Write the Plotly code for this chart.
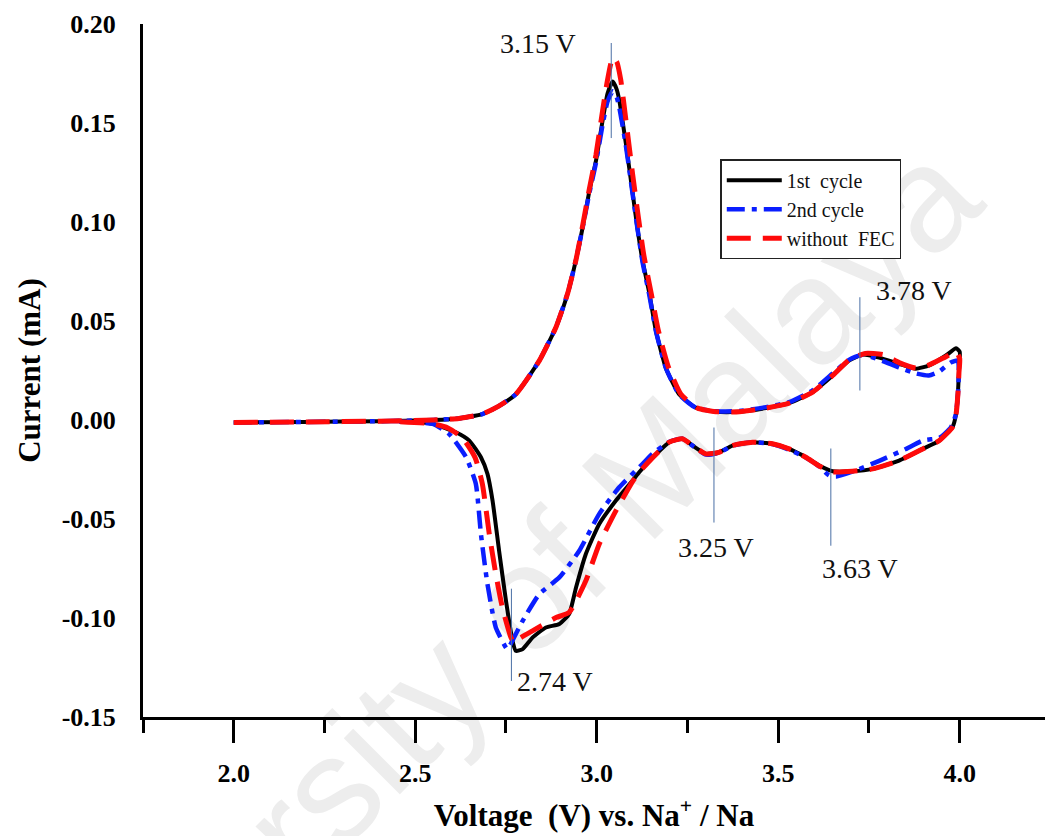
import plotly.graph_objects as go

# Cyclic voltammetry data: voltage (V vs Na+/Na) and current (mA)
cycle1_v = [2.00, 2.20, 2.40, 2.55, 2.62, 2.685, 2.73, 2.777, 2.842, 2.888, 2.920, 2.943, 2.961, 2.979,
            2.998, 3.016, 3.030, 3.044, 3.055, 3.062, 3.080, 3.099, 3.112, 3.126, 3.145, 3.163, 3.191,
            3.227, 3.273, 3.328, 3.393, 3.466, 3.530, 3.595, 3.650, 3.696, 3.732, 3.778, 3.833, 3.879,
            3.916, 3.962, 3.990, 4.000, 3.998, 3.995, 3.990, 3.980, 3.944, 3.898, 3.833, 3.760, 3.705,
            3.650, 3.613, 3.576, 3.530, 3.484, 3.429, 3.374, 3.337, 3.301, 3.264, 3.236, 3.200, 3.154,
            3.117, 3.099, 3.053, 3.007, 2.970, 2.943, 2.924, 2.897, 2.860, 2.823, 2.796, 2.777, 2.768,
            2.750, 2.731, 2.713, 2.699, 2.681, 2.649, 2.612, 2.548, 2.456]
cycle1_i = [-0.0012, -0.0010, -0.0006, 0.0000, 0.0008, 0.0030, 0.0070, 0.0130, 0.0300, 0.0470, 0.0640,
            0.0810, 0.0970, 0.1150, 0.1310, 0.1510, 0.1650, 0.1709, 0.1670, 0.1616, 0.1400, 0.1145,
            0.0970, 0.0807, 0.0640, 0.0450, 0.0260, 0.0130, 0.0062, 0.0042, 0.0042, 0.0060, 0.0085,
            0.0141, 0.0225, 0.0301, 0.0330, 0.0315, 0.0284, 0.0259, 0.0276, 0.0326, 0.0362, 0.0345,
            0.0250, 0.0133, 0.0030, -0.0036, -0.0104, -0.0146, -0.0205, -0.0247, -0.0259, -0.0259,
            -0.0230, -0.0188, -0.0146, -0.0120, -0.0112, -0.0129, -0.0163, -0.0171, -0.0129, -0.0095,
            -0.0112, -0.0190, -0.0264, -0.0306, -0.0407, -0.0525, -0.0677, -0.0846, -0.0980, -0.1030,
            -0.1048, -0.1099, -0.1157, -0.1166, -0.1115, -0.0913, -0.0660, -0.0407, -0.0272, -0.0188,
            -0.0104, -0.0062, -0.0019, -0.0008]

cycle2_v = [2.00, 2.20, 2.40, 2.55, 2.62, 2.685, 2.73, 2.777, 2.842, 2.888, 2.920, 2.943, 2.961, 2.979,
            2.998, 3.016, 3.030, 3.044, 3.055, 3.062, 3.080, 3.099, 3.112, 3.126, 3.145, 3.163, 3.191,
            3.227, 3.273, 3.328, 3.393, 3.466, 3.530, 3.595, 3.650, 3.696, 3.732, 3.778, 3.833, 3.880,
            3.915, 3.944, 3.975, 3.995, 3.997, 3.994, 3.988, 3.975, 3.944, 3.898, 3.852, 3.780, 3.720,
            3.660, 3.640, 3.613, 3.576, 3.530, 3.484, 3.429, 3.374, 3.337, 3.301, 3.264, 3.236, 3.200,
            3.154, 3.126, 3.062, 3.007, 2.952, 2.897, 2.842, 2.796, 2.754, 2.750, 2.722, 2.699, 2.681,
            2.667, 2.640, 2.593, 2.548, 2.456]
cycle2_i = [-0.0012, -0.0010, -0.0006, 0.0000, 0.0008, 0.0030, 0.0070, 0.0130, 0.0300, 0.0470, 0.0640,
            0.0810, 0.0970, 0.1140, 0.1300, 0.1490, 0.1610, 0.1660, 0.1630, 0.1580, 0.1390, 0.1140,
            0.0970, 0.0800, 0.0630, 0.0450, 0.0260, 0.0130, 0.0062, 0.0044, 0.0046, 0.0065, 0.0090,
            0.0150, 0.0235, 0.0305, 0.0330, 0.0305, 0.0265, 0.0235, 0.0225, 0.0245, 0.0290, 0.0300,
            0.0200, 0.0100, 0.0020, -0.0040, -0.0090, -0.0104, -0.0146, -0.0205, -0.0250, -0.0285,
            -0.0280, -0.0235, -0.0190, -0.0150, -0.0122, -0.0112, -0.0130, -0.0165, -0.0175, -0.0130,
            -0.0095, -0.0110, -0.0170, -0.0222, -0.0340, -0.0474, -0.0660, -0.0795, -0.0879, -0.1014,
            -0.1157, -0.1150, -0.1048, -0.0829, -0.0576, -0.0323, -0.0188, -0.0070, -0.0020, -0.0008]

nofec_v = [2.00, 2.20, 2.40, 2.55, 2.62, 2.685, 2.73, 2.777, 2.842, 2.888, 2.920, 2.943, 2.961, 2.979,
           2.998, 3.016, 3.030, 3.044, 3.055, 3.066, 3.080, 3.099, 3.115, 3.130, 3.150, 3.170, 3.197,
           3.232, 3.278, 3.328, 3.393, 3.466, 3.530, 3.595, 3.650, 3.696, 3.740, 3.790, 3.833, 3.879,
           3.916, 3.962, 3.990, 4.000, 3.998, 3.995, 3.990, 3.980, 3.944, 3.898, 3.833, 3.760, 3.705,
           3.650, 3.613, 3.576, 3.530, 3.484, 3.429, 3.374, 3.337, 3.301, 3.264, 3.236, 3.200, 3.154,
           3.117, 3.099, 3.053, 3.007, 2.970, 2.924, 2.888, 2.823, 2.790, 2.773, 2.764, 2.740, 2.722,
           2.704, 2.685, 2.665, 2.630, 2.590, 2.548, 2.456]
nofec_i = [-0.0012, -0.0010, -0.0006, 0.0000, 0.0008, 0.0030, 0.0070, 0.0130, 0.0300, 0.0470, 0.0640,
           0.0810, 0.0980, 0.1160, 0.1340, 0.1560, 0.1720, 0.1830, 0.1810, 0.1720, 0.1520, 0.1240,
           0.1020, 0.0830, 0.0640, 0.0450, 0.0270, 0.0130, 0.0060, 0.0042, 0.0042, 0.0060, 0.0085,
           0.0141, 0.0225, 0.0305, 0.0336, 0.0330, 0.0290, 0.0262, 0.0278, 0.0320, 0.0345, 0.0310,
           0.0240, 0.0130, 0.0030, -0.0036, -0.0104, -0.0146, -0.0205, -0.0247, -0.0259, -0.0262,
           -0.0232, -0.0188, -0.0146, -0.0120, -0.0112, -0.0129, -0.0163, -0.0171, -0.0129, -0.0095,
           -0.0112, -0.0190, -0.0264, -0.0310, -0.0458, -0.0626, -0.0812, -0.0972, -0.0998, -0.1065,
           -0.1100, -0.1124, -0.1100, -0.0947, -0.0778, -0.0576, -0.0323, -0.0190, -0.0090, -0.0040,
           -0.0019, -0.0008]

series_names = ["1st\u00a0 cycle", "2nd cycle", "without\u00a0 FEC"]

# Peak markers: label, voltage of the marker line, line span (mA), label position
peak_labels = ["3.15 V", "2.74 V", "3.78 V", "3.25 V", "3.63 V"]
peak_line_x = [3.040, 2.765, 3.725, 3.323, 3.645]
peak_line_y0 = [0.1424, -0.0852, 0.0149, -0.0038, -0.0144]
peak_line_y1 = [0.1904, -0.1318, 0.0620, -0.0518, -0.0635]
peak_text_x = [2.839, 2.776, 3.873, 3.329, 3.725]
peak_text_y = [0.1900, -0.1323, 0.0655, -0.0645, -0.0751]
peak_text_anchor = ["center", "left", "center", "center", "center"]

y_tickvals = [-0.15, -0.10, -0.05, 0.00, 0.05, 0.10, 0.15, 0.20]
y_ticktext = ["-0.15", "-0.10", "-0.05", "0.00", "0.05", "0.10", "0.15", "0.20"]
x_tickvals = [2.0, 2.5, 3.0, 3.5, 4.0]
x_ticktext = ["2.0", "2.5", "3.0", "3.5", "4.0"]
x_minor_tickvals = [1.75, 2.25, 2.75, 3.25, 3.75, 4.25]

serif = "Liberation Serif, Times New Roman, serif"

fig = go.Figure()
fig.add_trace(go.Scatter(x=cycle1_v, y=cycle1_i, mode="lines", name=series_names[0],
                         line=dict(color="#000000", width=4, shape="spline", smoothing=0.5)))
fig.add_trace(go.Scatter(x=cycle2_v, y=cycle2_i, mode="lines", name=series_names[1],
                         line=dict(color="#0a1eff", width=4.5, dash="18px,7px,5px,7px",
                                   shape="spline", smoothing=0.5)))
fig.add_trace(go.Scatter(x=nofec_v, y=nofec_i, mode="lines", name=series_names[2],
                         line=dict(color="#ff0a0a", width=5, dash="24px,12px",
                                   shape="spline", smoothing=0.5)))

shapes = []
# faint diagonal watermark behind the curves
shapes.append(dict(type="rect", xref="paper", yref="paper", x0=0.342, x1=0.37, y0=0.098, y1=0.134,
                   line=dict(width=0), fillcolor="rgba(0,0,0,0)", layer="below",
                   label=dict(text="University of Malaya", textangle=-45, textposition="middle center",
                              font=dict(family="Liberation Sans, Arial, sans-serif", size=150,
                                        color="#ededed"))))
for lx, ya, yb in zip(peak_line_x, peak_line_y0, peak_line_y1):
    shapes.append(dict(type="line", xref="x", yref="y", x0=lx, x1=lx, y0=ya, y1=yb,
                       line=dict(color="#4a6fa5", width=1)))

annotations = []
for txt, tx, ty, anc in zip(peak_labels, peak_text_x, peak_text_y, peak_text_anchor):
    annotations.append(dict(x=tx, y=ty, xref="x", yref="y", text=txt, showarrow=False,
                            xanchor=anc, yanchor="middle",
                            font=dict(family=serif, size=28, color="#111111")))

fig.update_layout(
    width=1045, height=836,
    margin=dict(l=143, r=0, t=24, b=119, autoexpand=False),
    paper_bgcolor="white", plot_bgcolor="white",
    shapes=shapes, annotations=annotations,
    legend=dict(x=0.64, y=0.805, xanchor="left", yanchor="top",
                bgcolor="white", bordercolor="#222222", borderwidth=1.5,
                font=dict(family=serif, size=20, color="#111111"),
                itemwidth=55, tracegroupgap=0),
    xaxis=dict(range=[1.75, 4.235], showgrid=False, zeroline=False,
               showline=True, linecolor="black", linewidth=3,
               ticks="outside", ticklen=23, tickwidth=3, tickcolor="black",
               tickvals=x_tickvals, ticktext=x_ticktext, ticklabelstandoff=8,
               minor=dict(tickvals=x_minor_tickvals, ticks="outside",
                          ticklen=13, tickwidth=3, tickcolor="black", showgrid=False),
               tickfont=dict(family=serif, size=26, color="black", weight="bold"),
               title=dict(text="<b>Voltage\u00a0 (V) vs. Na<sup>+</sup> / Na</b>", standoff=18,
                          font=dict(family=serif, size=31, color="black")),
               automargin=False),
    yaxis=dict(range=[-0.15, 0.20], showgrid=False, zeroline=False,
               showline=True, linecolor="black", linewidth=3, ticks="",
               tickvals=y_tickvals, ticktext=y_ticktext, ticklabelstandoff=19,
               tickfont=dict(family=serif, size=26, color="black", weight="bold"),
               title=dict(text="<b>Current (mA)</b>", standoff=12,
                          font=dict(family=serif, size=31, color="black")),
               automargin=False),
)

fig.write_html("out.html")
